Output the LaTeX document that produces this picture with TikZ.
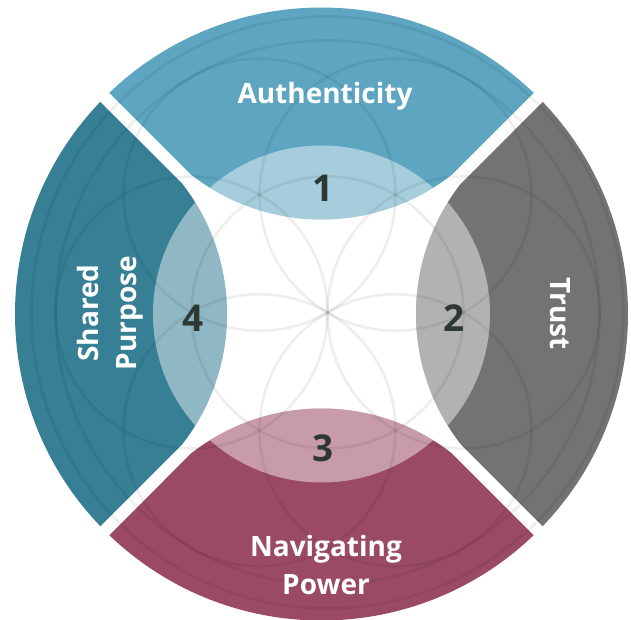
\documentclass[tikz,border=0pt]{standalone}
\usepackage{fontspec}
\setmainfont{Open Sans}
\usepackage{tikz}

\definecolor{authblue}{HTML}{5DA5C0}
\definecolor{trustgray}{HTML}{737373}
\definecolor{powerred}{HTML}{9B4A66}
\definecolor{purposeteal}{HTML}{367F94}
\definecolor{numdark}{HTML}{2E3833}

% one quarter of the ring, drawn at the top
\newcommand{\quarter}{(-212.18,221.18) -- (-130.16,139.16)
    arc[start angle=232.12, end angle=307.88, radius=212]
    -- (212.18,221.18)
    arc[start angle=46.19, end angle=133.81, radius=306.5] -- cycle}

\begin{document}
\begin{tikzpicture}[x=1pt, y=1pt,
    title/.style={text=white, font=\bfseries\fontsize{28}{38}\selectfont, align=center, inner sep=0pt},
    num/.style={text=numdark, font=\bfseries\fontsize{37}{37}\selectfont, inner sep=0pt},
    seed/.style={draw=black, draw opacity=0.065, line width=2.6pt}]

    \useasboundingbox (-321.5,-305) rectangle (309.5,314);

    % Coloured quarters with a pale inner part
    \foreach \ang/\col in {0/authblue, 90/purposeteal, 180/powerred, 270/trustgray} {
        \begin{scope}[rotate=\ang]
            \fill[\col] \quarter;
            \begin{scope}
                \clip (0,0) circle (168.5);
                \fill[white, fill opacity=0.45] \quarter;
            \end{scope}
        \end{scope}
    }

    % Seed of life in the background
    \begin{scope}[shift={(6,1.5)}]
        \draw[seed] (0,0) circle (136);
        \foreach \a in {0,60,...,300}
            \draw[seed] (\a:136) circle (136);
        \draw[seed] (0,0) circle (272);
        \draw[seed] (0,0) circle (296);
    \end{scope}

    % Numbers
    \node[num] (n1) at (2,126) {1};
    \node[num] (n2) at (132.5,-4) {2};
    \node[num] (n3) at (2,-134.5) {3};
    \node[num] (n4) at (-128.5,-4) {4};

    % Titles (base is the last line)
    \node[title, anchor=base] (auth) at (3.5,211) {Authenticity};
    \node[title, anchor=base, rotate=-90] (trust) at (228.5,0.5) {Trust};
    \node[title, anchor=base, rotate=90] (purpose) at (-184.5,1) {Shared\\Purpose};
    \node[title, anchor=base] (power) at (4.5,-280) {Navigating\\Power};
\end{tikzpicture}
\end{document}
